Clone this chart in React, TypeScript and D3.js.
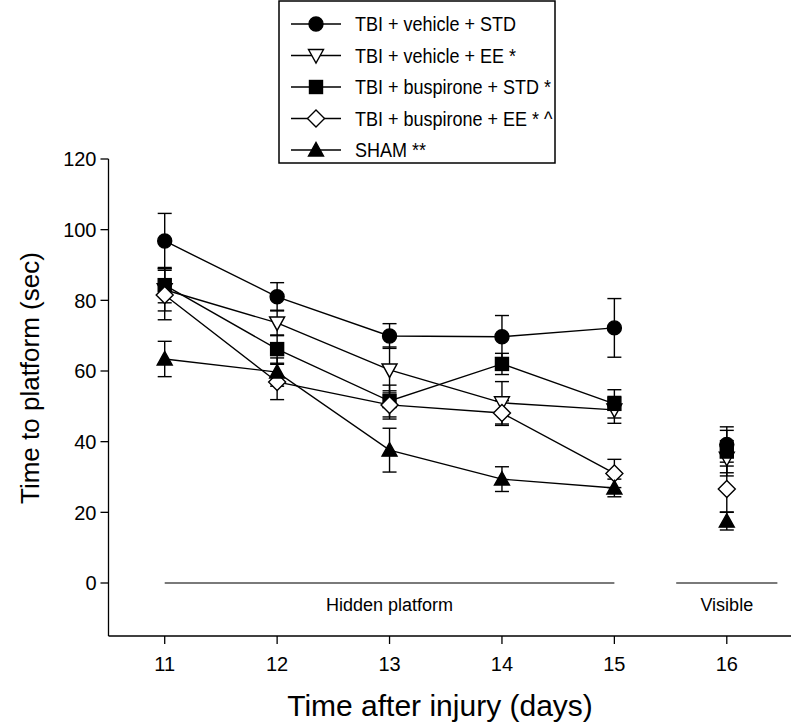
import React from "react";
import * as d3 from "d3";

const days = [11, 12, 13, 14, 15, 16];
const seriesNames = [
  "TBI + vehicle + STD",
  "TBI + vehicle + EE *",
  "TBI + buspirone + STD *",
  "TBI + buspirone + EE * ^",
  "SHAM **",
];
const markerTypes = ["circle", "triDown", "square", "diamond", "triUp"];
const markerFilled = [true, false, true, false, true];
const vehicleStd = [96.8, 81, 69.9, 69.7, 72.2, 39.2];
const vehicleStdErr = [7.8, 4, 3.5, 6, 8.3, 5];
const vehicleEE = [83, 73.6, 60.3, 51, 49, 35.3];
const vehicleEEErr = [6, 3.6, 6.5, 6, 3.8, 5];
const buspStd = [84.3, 66.2, 51.5, 62, 50.7, 37.2];
const buspStdErr = [5, 4, 4.5, 3, 4, 6];
const buspEE = [81.5, 56.9, 50.4, 48.1, 31, 26.6];
const buspEEErr = [7, 5, 4, 3.5, 4, 6.5];
const sham = [63.4, 59.7, 37.6, 29.4, 26.9, 17.5];
const shamErr = [5, 4, 6.2, 3.5, 2.5, 2.5];
const seriesValues = [vehicleStd, vehicleEE, buspStd, buspEE, sham];
const seriesErrors = [vehicleStdErr, vehicleEEErr, buspStdErr, buspEEErr, shamErr];
const yTicks = [0, 20, 40, 60, 80, 100, 120];
const hiddenDays = [11, 15];
const visibleDays = [15.55, 16.45];

const FONT = "'Liberation Sans', Arial, Helvetica, sans-serif";

function Marker({ type, filled, cx, cy }: { type: string; filled: boolean; cx: number; cy: number }) {
  const fill = filled ? "#000" : "#fff";
  const sw = 1.4;
  if (type === "circle") return <circle cx={cx} cy={cy} r={7} fill={fill} stroke="#000" strokeWidth={sw} />;
  if (type === "square") return <rect x={cx - 6.5} y={cy - 6.5} width={13} height={13} fill={fill} stroke="#000" strokeWidth={sw} />;
  if (type === "diamond")
    return <path d={`M${cx},${cy - 8.5}L${cx + 8.5},${cy}L${cx},${cy + 8.5}L${cx - 8.5},${cy}Z`} fill={fill} stroke="#000" strokeWidth={sw} />;
  if (type === "triDown")
    return <path d={`M${cx - 7.5},${cy - 6}L${cx + 7.5},${cy - 6}L${cx},${cy + 7.5}Z`} fill={fill} stroke="#000" strokeWidth={sw} />;
  return <path d={`M${cx - 7.5},${cy + 6}L${cx + 7.5},${cy + 6}L${cx},${cy - 7.5}Z`} fill={fill} stroke="#000" strokeWidth={sw} />;
}

export default function App() {
  const W = 792, H = 727;
  const x = d3.scaleLinear().domain([10.5, 16.5]).range([108.5, 783]);
  const y = d3.scaleLinear().domain([-15, 120]).range([636, 159]);
  const line = d3.line<[number, number]>().x((d) => x(d[0])).y((d) => y(d[1]));
  const capW = 7;

  return (
    <svg width={W} height={H} style={{ position: "absolute", left: 0, top: 0, background: "#fff" }} fontFamily={FONT}>
      {/* axes */}
      <line x1={x(10.5)} x2={x(10.5)} y1={y(120)} y2={y(-15)} stroke="#000" strokeWidth={1.3} />
      <line x1={x(10.5)} x2={791} y1={y(-15)} y2={y(-15)} stroke="#000" strokeWidth={1.3} />
      {yTicks.map((t) => (
        <g key={"y" + t}>
          <line x1={x(10.5) - 8} x2={x(10.5)} y1={y(t)} y2={y(t)} stroke="#000" strokeWidth={1.3} />
          <text x={x(10.5) - 12} y={y(t)} dy="0.36em" textAnchor="end" fontSize={20}>{t}</text>
        </g>
      ))}
      {days.map((d) => (
        <g key={"x" + d}>
          <line x1={x(d)} x2={x(d)} y1={y(-15)} y2={y(-15) + 8} stroke="#000" strokeWidth={1.3} />
          <text x={x(d)} y={y(-15) + 35} textAnchor="middle" fontSize={20}>{d}</text>
        </g>
      ))}
      <text x={440} y={716} textAnchor="middle" fontSize={30}>Time after injury (days)</text>
      <text transform={`translate(39,${y(58)}) rotate(-90)`} textAnchor="middle" fontSize={26}>Time to platform (sec)</text>

      {/* phase lines */}
      <line x1={x(hiddenDays[0])} x2={x(hiddenDays[1])} y1={y(0)} y2={y(0)} stroke="#7a7a7a" strokeWidth={2} />
      <line x1={x(visibleDays[0])} x2={x(visibleDays[1])} y1={y(0)} y2={y(0)} stroke="#7a7a7a" strokeWidth={2} />
      <text x={x(13)} y={y(0) + 28} textAnchor="middle" fontSize={18}>Hidden platform</text>
      <text x={x(16)} y={y(0) + 28} textAnchor="middle" fontSize={18}>Visible</text>

      {/* lines */}
      {seriesValues.map((vals, i) => (
        <path key={"l" + i} d={line(days.slice(0, 5).map((d, j) => [d, vals[j]] as [number, number])) || ""} fill="none" stroke="#000" strokeWidth={1.4} />
      ))}
      {/* error bars */}
      {seriesValues.map((vals, i) => (
        <g key={"e" + i}>
          {days.map((d, j) => {
            const e = seriesErrors[i][j];
            return (
              <g key={j}>
                <line x1={x(d)} x2={x(d)} y1={y(vals[j] - e)} y2={y(vals[j] + e)} stroke="#000" strokeWidth={1.4} />
                <line x1={x(d) - capW} x2={x(d) + capW} y1={y(vals[j] + e)} y2={y(vals[j] + e)} stroke="#000" strokeWidth={1.4} />
                <line x1={x(d) - capW} x2={x(d) + capW} y1={y(vals[j] - e)} y2={y(vals[j] - e)} stroke="#000" strokeWidth={1.4} />
              </g>
            );
          })}
        </g>
      ))}
      {/* markers */}
      {seriesValues.map((vals, i) => (
        <g key={"m" + i}>
          {days.map((d, j) => (
            <Marker key={j} type={markerTypes[i]} filled={markerFilled[i]} cx={x(d)} cy={y(vals[j])} />
          ))}
        </g>
      ))}

      {/* legend */}
      <rect x={279} y={1} width={276} height={162} fill="#fff" stroke="#000" strokeWidth={1.5} />
      {seriesNames.map((name, i) => {
        const cy = 24 + i * 31.5;
        return (
          <g key={"lg" + i}>
            <line x1={291} x2={341} y1={cy} y2={cy} stroke="#000" strokeWidth={1.4} />
            <Marker type={markerTypes[i]} filled={markerFilled[i]} cx={316} cy={cy} />
            <g transform={`translate(355,${cy}) scale(0.9,1)`}>
              <text x={0} y={0} dy="0.36em" fontSize={20}>{name}</text>
            </g>
          </g>
        );
      })}
    </svg>
  );
}
